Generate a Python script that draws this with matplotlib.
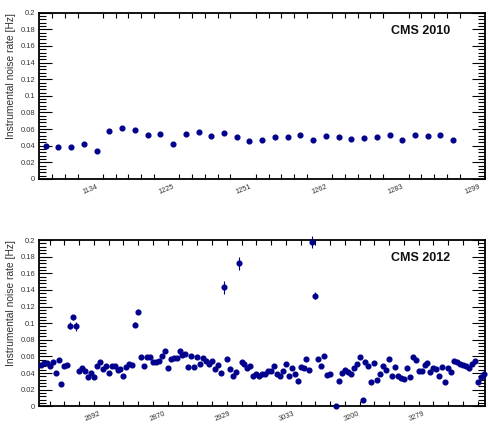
import numpy as np
import matplotlib
matplotlib.use('Agg')
import matplotlib.pyplot as plt
from matplotlib.ticker import MultipleLocator, FixedLocator, FuncFormatter

plt.rcParams['font.family'] = ['Liberation Sans', 'DejaVu Sans']

# ---------------- data ----------------
rate_2010 = [0.040, 0.0385, 0.039, 0.042, 0.034, 0.058, 0.061, 0.0585, 0.053, 0.054,
             0.042, 0.054, 0.057, 0.052, 0.055, 0.050, 0.046, 0.047, 0.051, 0.050,
             0.053, 0.047, 0.052, 0.051, 0.048, 0.049, 0.0505, 0.053, 0.0465, 0.053,
             0.052, 0.053, 0.047]
n_bins_2010 = 35
fill_labels_2010 = ['1134', '1225', '1251', '1262', '1283', '1299']
label_bins_2010 = [4, 10, 16, 22, 28, 34]

nan = float('nan')
rate_2012 = [0.050, 0.052, 0.052, 0.049, 0.053, 0.040, 0.056, 0.027, 0.048, 0.050,
             0.097, 0.107, 0.096, 0.043, 0.046, 0.042, 0.035, 0.040, 0.035, 0.048,
             0.053, 0.045, 0.048, 0.040, 0.049, 0.049, 0.044, 0.045, 0.037, 0.047,
             0.051, 0.050, 0.098, 0.114, 0.059, 0.049, 0.059, 0.059, 0.053, 0.053,
             0.055, 0.060, 0.066, 0.046, 0.057, 0.058, 0.058, 0.067, 0.062, 0.063,
             0.047, 0.060, 0.047, 0.059, 0.051, 0.058, 0.055, 0.051, 0.054, 0.045,
             0.050, 0.040, 0.143, 0.057, 0.045, 0.036, 0.041, 0.172, 0.053, 0.051,
             0.046, 0.049, 0.036, 0.039, 0.037, 0.039, 0.039, 0.043, 0.043, 0.049,
             0.039, 0.037, 0.043, 0.051, 0.037, 0.046, 0.039, 0.031, 0.047, 0.046,
             0.057, 0.044, 0.198, 0.133, 0.057, 0.048, 0.060, 0.038, 0.039, nan,
             0.000, 0.031, 0.040, 0.044, 0.041, 0.039, 0.046, 0.051, 0.059, 0.007,
             0.053, 0.049, 0.029, 0.052, 0.032, 0.039, 0.049, 0.044, 0.057, 0.036,
             0.047, 0.037, 0.034, 0.033, 0.046, 0.035, 0.059, 0.056, 0.042, 0.043,
             0.050, 0.052, 0.041, 0.046, 0.045, 0.036, 0.047, 0.029, 0.046, 0.041,
             0.055, 0.053, 0.051, 0.050, 0.049, 0.046, 0.051, 0.054, 0.029, 0.035,
             0.039]
n_bins_2012 = 151
fill_labels_2012 = ['2692', '2870', '2929', '3033', '3200', '3279']
label_bins_2012 = [18, 40, 62, 84, 106, 128]
err_bins_2012 = [10, 11, 12, 32, 33, 62, 67, 92, 93]
err_vals_2012 = [0.004, 0.003, 0.005, 0.003, 0.003, 0.008, 0.008, 0.007, 0.004]

# ---------------- style ----------------
NAVY = '#00008c'
TXT = '#333333'

fig = plt.figure(figsize=(4.89, 4.29), dpi=100)
fig.patch.set_facecolor('white')

ax1 = fig.add_axes([0.0804, 0.5828, 0.9115, 0.3876])
ax2 = fig.add_axes([0.0804, 0.0529, 0.9115, 0.3876])


def style_axis(ax, nbins, label_bins, labels, minor_pos, title):
    ax.set_xlim(0, nbins)
    ax.set_ylim(0, 0.2)
    for s in ax.spines.values():
        s.set_linewidth(1.3)
        s.set_color('black')
    ax.yaxis.set_major_locator(MultipleLocator(0.02))
    ax.yaxis.set_minor_locator(MultipleLocator(0.004))
    ax.yaxis.set_major_formatter(FuncFormatter(lambda v, p: '%g' % round(v, 3)))
    ax.tick_params(axis='y', which='major', direction='in', length=9.2, width=0.8,
                   left=True, right=True, labelsize=5.4, labelcolor=TXT, pad=3)
    ax.tick_params(axis='y', which='minor', direction='in', length=4.8, width=0.8,
                   left=True, right=True)
    ax.xaxis.set_major_locator(FixedLocator(label_bins))
    ax.set_xticklabels(labels, rotation=22, ha='center', va='top')
    ax.xaxis.set_minor_locator(FixedLocator(minor_pos))
    ax.tick_params(axis='x', which='major', direction='in', length=0, width=0.8,
                   top=True, bottom=True, labelsize=5.3, labelcolor=TXT, pad=3)
    ax.tick_params(axis='x', which='minor', direction='in', length=3.6, width=0.8,
                   top=True, bottom=True)
    ax.set_ylabel('Instrumental noise rate [Hz]', loc='top', fontsize=7.4, color=TXT,
                  labelpad=3)
    ax.text(0.9215, 0.89, title, transform=ax.transAxes, ha='right', va='center',
            fontsize=9, fontweight='bold', color='#111111')


# top panel
x10 = np.arange(len(rate_2010)) + 0.5
ax1.plot(x10, rate_2010, 'o', color=NAVY, ms=3.4, clip_on=False, zorder=3)
style_axis(ax1, n_bins_2010, label_bins_2010, fill_labels_2010,
           np.arange(1, n_bins_2010), 'CMS 2010')

# bottom panel
x12 = np.arange(len(rate_2012)) + 0.5
err12 = np.zeros(len(rate_2012))
err12[err_bins_2012] = err_vals_2012
ax2.errorbar(x12, rate_2012, yerr=err12, fmt='o', color=NAVY, ecolor=NAVY,
             ms=3.4, elinewidth=0.8, capsize=0, clip_on=False, zorder=3)
style_axis(ax2, n_bins_2012, label_bins_2012, fill_labels_2012,
           np.arange(3.5, n_bins_2012, 5), 'CMS 2012')

fig.savefig('out.png', dpi=100)
